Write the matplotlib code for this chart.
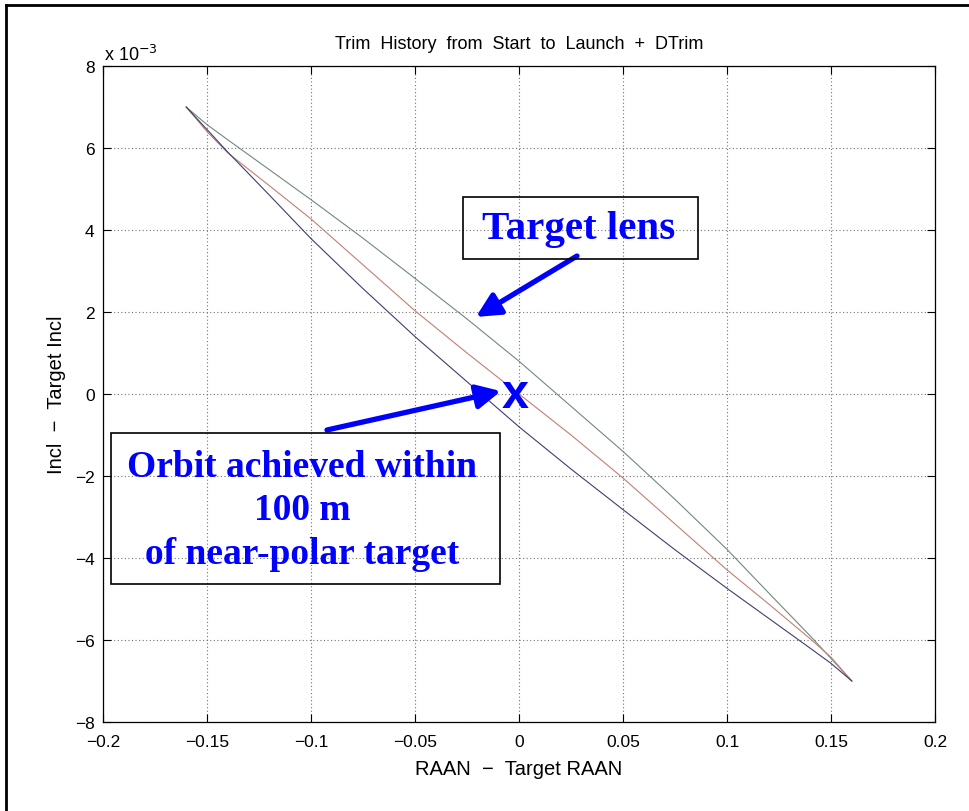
import numpy as np
import matplotlib
matplotlib.use("Agg")
import matplotlib.pyplot as plt
from matplotlib.lines import Line2D
from matplotlib.patches import Rectangle
from matplotlib.ticker import FuncFormatter

# trim history: RAAN error vs inclination error (incl values in 1e-3 units)
raan = [-0.16, -0.15, -0.14, -0.12, -0.10, -0.075, -0.05, -0.025, 0.0,
        0.025, 0.05, 0.075, 0.10, 0.12, 0.14, 0.15, 0.16]
incl_upper = [7.0, 6.57, 6.2, 5.47, 4.74, 3.80, 2.82, 1.83, 0.80,
              -0.30, -1.40, -2.57, -3.79, -4.85, -5.90, -6.45, -7.0]
incl_mid = [7.0, 6.4, 5.88, 5.08, 4.27, 3.15, 2.03, 1.0, 0.0,
            -1.0, -2.05, -3.17, -4.29, -5.12, -5.97, -6.42, -7.0]
incl_lower = [7.0, 6.45, 5.90, 4.85, 3.79, 2.57, 1.40, 0.30, -0.80,
              -1.83, -2.82, -3.80, -4.74, -5.47, -6.2, -6.57, -7.0]
achieved = (-0.002, 0.0)
lens_point = (-0.0207, 1.88)

xticks = [-0.2, -0.15, -0.1, -0.05, 0, 0.05, 0.1, 0.15, 0.2]
yticks = [-8, -6, -4, -2, 0, 2, 4, 6, 8]

W, H = 969, 812
plt.rcParams['font.family'] = ['Liberation Sans', 'DejaVu Sans']


def fig_xy(px, py):
    return px / W, 1 - py / H


def tick_fmt(v):
    s = f"{v:g}"
    return s.replace('-', '\u2212')


fig = plt.figure(figsize=(W / 100, H / 100), dpi=100)
ax = fig.add_axes([103 / W, 1 - 723 / H, 832 / W, 656 / H])

scale = 1e-3
ax.plot(raan, np.array(incl_upper) * scale, color='#6f8a7c', lw=0.8)
ax.plot(raan, np.array(incl_mid) * scale, color='#c47f72', lw=0.8)
ax.plot(raan, np.array(incl_lower) * scale, color='#3e3f6e', lw=0.8)

ax.set_xlim(-0.2, 0.2)
ax.set_ylim(-8e-3, 8e-3)
ax.set_xticks(xticks)
ax.set_yticks(np.array(yticks) * scale)
ax.xaxis.set_major_formatter(FuncFormatter(lambda v, _: tick_fmt(round(v, 2) + 0.0)))
ax.yaxis.set_major_formatter(FuncFormatter(lambda v, _: tick_fmt(round(v * 1e3) + 0)))
ax.tick_params(direction='in', length=6, width=0.8, top=True, right=True,
               labelsize=12.5)
ax.tick_params(axis='x', pad=9)
ax.tick_params(axis='y', pad=6)
for s in ax.spines.values():
    s.set_linewidth(0.9)
ax.grid(True, color='0.45', linewidth=0.8, linestyle=(0, (1, 2.2)))

ax.set_title('Trim  History  from  Start  to  Launch  +  DTrim', fontsize=13, pad=13)
fig.text(*fig_xy(104, 61), 'x 10$^{\u22123}$', fontsize=13, ha='left', va='baseline')
fig.text(*fig_xy(57, 395), 'Incl  \u2212  Target Incl', fontsize=14.5, rotation=90,
         ha='center', va='center')
fig.text(*fig_xy(519, 770), 'RAAN  \u2212  Target RAAN', fontsize=14.5,
         ha='center', va='center')

# callout boxes
box_kw = dict(transform=fig.transFigure, fill=False, edgecolor='black', lw=1.2)
x0, y0 = fig_xy(463, 260)
fig.add_artist(Rectangle((x0, y0), (698 - 463) / W, (260 - 198) / H, **box_kw))
fig.text(*fig_xy(579, 229), 'Target lens', family='Liberation Serif',
         fontweight='bold', fontsize=29.5, color='blue', ha='center', va='center')

x0, y0 = fig_xy(111, 585)
fig.add_artist(Rectangle((x0, y0), (500 - 111) / W, (585 - 434) / H, **box_kw))
fig.text(*fig_xy(302, 511), 'Orbit achieved within\n100 m\nof near-polar target',
         family='Liberation Serif', fontweight='bold', fontsize=27, color='blue',
         ha='center', va='center', multialignment='center', linespacing=1.3)

# arrows
arrow_kw = dict(arrowstyle='-|>', mutation_scale=36, lw=3.8, color='blue',
                shrinkA=0, shrinkB=0)
ax.annotate('', xy=(lens_point[0], lens_point[1] * scale), xycoords='data',
            xytext=fig_xy(577, 257), textcoords='figure fraction',
            arrowprops=arrow_kw)
ax.annotate('', xy=(-0.0087, 0.07 * scale), xycoords='data',
            xytext=fig_xy(327, 431), textcoords='figure fraction',
            arrowprops=arrow_kw)
ax.annotate('x', xy=(achieved[0], achieved[1] * scale), xytext=(0, -13),
            textcoords='offset pixels', ha='center', va='baseline',
            fontsize=35, fontweight='bold', color='blue')

# page frame
fig.add_artist(Line2D([6 / W, 6 / W], [0, 1 - 6 / H], transform=fig.transFigure,
                      color='black', lw=2))
fig.add_artist(Line2D([6 / W, 1], [1 - 6 / H, 1 - 6 / H], transform=fig.transFigure,
                      color='black', lw=2))

fig.savefig('out.png', dpi=100)
